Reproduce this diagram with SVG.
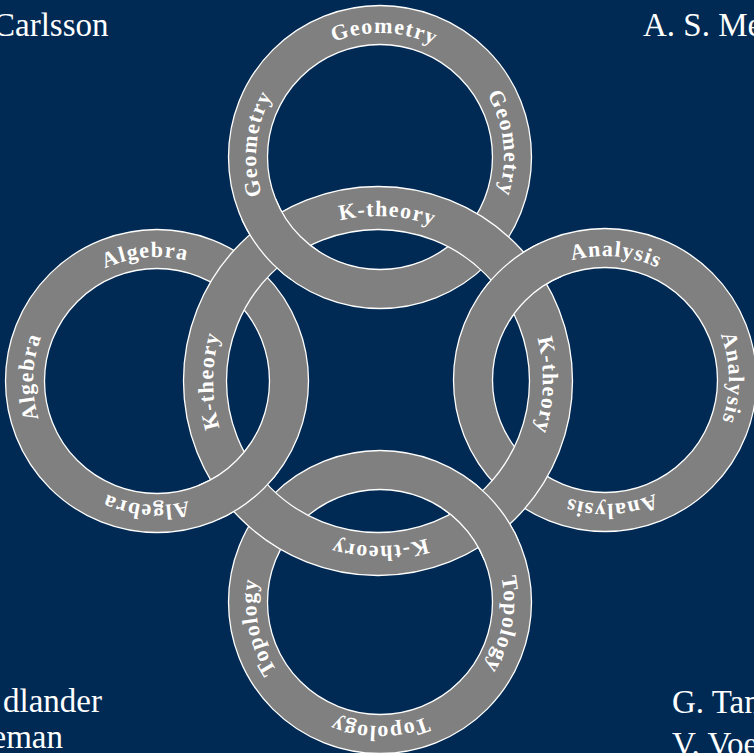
<svg xmlns="http://www.w3.org/2000/svg" xmlns:xlink="http://www.w3.org/1999/xlink" width="754" height="753" viewBox="0 0 754 753">
<defs>
<style>
.band{fill:#808080;fill-rule:evenodd;stroke:#ffffff;stroke-width:1.3}
.lbl{font-family:"Liberation Serif",serif;font-weight:bold;font-size:22px;fill:#ffffff;letter-spacing:1.2px}
.name{font-family:"Liberation Serif",serif;font-size:33px;fill:#ffffff}
</style>
<path id="a124" d="M -124 0 A 124 124 0 0 1 124 0"/>
<path id="a165" d="M -165 0 A 165 165 0 0 1 165 0"/>
<clipPath id="cGeo"><circle cx="277.5" cy="240.2" r="42"/></clipPath>
<clipPath id="cAna"><circle cx="519.4" cy="280.3" r="42"/></clipPath>
<clipPath id="cTop"><circle cx="482.6" cy="518.9" r="42"/></clipPath>
<clipPath id="cAlg"><circle cx="239.2" cy="484.3" r="42"/></clipPath>
</defs>
<rect width="754" height="753" fill="#002a54"/>

<g id="node-geometry">
<path id="band-geometry" class="band" d="M228.5 157 A151.5 151.5 0 1 0 531.5 157 A151.5 151.5 0 1 0 228.5 157 Z M267.5 157 A112.5 112.5 0 1 0 492.5 157 A112.5 112.5 0 1 0 267.5 157 Z"/>
<text class="lbl" transform="translate(380 157) rotate(2)"><textPath xlink:href="#a124" href="#a124" startOffset="50%" text-anchor="middle">Geometry</textPath></text>
<text class="lbl" transform="translate(380 157) rotate(276)"><textPath xlink:href="#a124" href="#a124" startOffset="50%" text-anchor="middle">Geometry</textPath></text>
<text class="lbl" transform="translate(380 157) rotate(83.5)"><textPath xlink:href="#a124" href="#a124" startOffset="50%" text-anchor="middle">Geometry</textPath></text>
</g>

<g id="node-algebra">
<path id="band-algebra" class="band" d="M5.5 381 A151.5 151.5 0 1 0 308.5 381 A151.5 151.5 0 1 0 5.5 381 Z M44.5 381 A112.5 112.5 0 1 0 269.5 381 A112.5 112.5 0 1 0 44.5 381 Z"/>
<text class="lbl" transform="translate(157 381) rotate(-5.4)"><textPath xlink:href="#a124" href="#a124" startOffset="50%" text-anchor="middle">Algebra</textPath></text>
<text class="lbl" transform="translate(157 381) rotate(271.8)"><textPath xlink:href="#a124" href="#a124" startOffset="50%" text-anchor="middle">Algebra</textPath></text>
<text class="lbl" transform="translate(157 381) rotate(184.9)"><textPath xlink:href="#a124" href="#a124" startOffset="50%" text-anchor="middle">Algebra</textPath></text>
</g>

<g id="node-analysis">
<path id="band-analysis" class="band" d="M453.5 380 A151.5 151.5 0 1 0 756.5 380 A151.5 151.5 0 1 0 453.5 380 Z M492.5 380 A112.5 112.5 0 1 0 717.5 380 A112.5 112.5 0 1 0 492.5 380 Z"/>
<text class="lbl" transform="translate(605 380) rotate(5)"><textPath xlink:href="#a124" href="#a124" startOffset="50%" text-anchor="middle">Analysis</textPath></text>
<text class="lbl" transform="translate(605 380) rotate(89.1)"><textPath xlink:href="#a124" href="#a124" startOffset="50%" text-anchor="middle">Analysis</textPath></text>
<text class="lbl" transform="translate(605 380) rotate(177)"><textPath xlink:href="#a124" href="#a124" startOffset="50%" text-anchor="middle">Analysis</textPath></text>
</g>

<g id="node-topology">
<path id="band-topology" class="band" d="M228.5 602 A151.5 151.5 0 1 0 531.5 602 A151.5 151.5 0 1 0 228.5 602 Z M267.5 602 A112.5 112.5 0 1 0 492.5 602 A112.5 112.5 0 1 0 267.5 602 Z"/>
<text class="lbl" transform="translate(380 602) rotate(258.4)"><textPath xlink:href="#a124" href="#a124" startOffset="50%" text-anchor="middle">Topology</textPath></text>
<text class="lbl" transform="translate(380 602) rotate(100.4)"><textPath xlink:href="#a124" href="#a124" startOffset="50%" text-anchor="middle">Topology</textPath></text>
<text class="lbl" transform="translate(380 602) rotate(180)"><textPath xlink:href="#a124" href="#a124" startOffset="50%" text-anchor="middle">Topology</textPath></text>
</g>

<g id="node-ktheory">
<path id="band-ktheory" class="band" d="M183.5 381 A194.5 194.5 0 1 0 572.5 381 A194.5 194.5 0 1 0 183.5 381 Z M226.5 381 A151.5 151.5 0 1 0 529.5 381 A151.5 151.5 0 1 0 226.5 381 Z"/>
<text class="lbl" transform="translate(378 381) rotate(3.2)"><textPath xlink:href="#a165" href="#a165" startOffset="50%" text-anchor="middle">K-theory</textPath></text>
<text class="lbl" transform="translate(378 381) rotate(270)"><textPath xlink:href="#a165" href="#a165" startOffset="50%" text-anchor="middle">K-theory</textPath></text>
<text class="lbl" transform="translate(378 381) rotate(91.4)"><textPath xlink:href="#a165" href="#a165" startOffset="50%" text-anchor="middle">K-theory</textPath></text>
<text class="lbl" transform="translate(378 381) rotate(179.3)"><textPath xlink:href="#a165" href="#a165" startOffset="50%" text-anchor="middle">K-theory</textPath></text>
</g>

<g id="weave-over">
<use xlink:href="#band-geometry" href="#band-geometry" clip-path="url(#cGeo)"/>
<use xlink:href="#band-analysis" href="#band-analysis" clip-path="url(#cAna)"/>
<use xlink:href="#band-topology" href="#band-topology" clip-path="url(#cTop)"/>
<use xlink:href="#band-algebra" href="#band-algebra" clip-path="url(#cAlg)"/>
</g>

<g id="names">
<text class="name" x="-7" y="36">Carlsson</text>
<text class="name" x="643" y="36">A. S. Me</text>
<text class="name" x="102" y="712" text-anchor="end">dlander</text>
<text class="name" x="63" y="748" text-anchor="end">eman</text>
<text class="name" x="672" y="713">G. Tan</text>
<text class="name" x="672" y="755">V. Voe</text>
</g>
</svg>
